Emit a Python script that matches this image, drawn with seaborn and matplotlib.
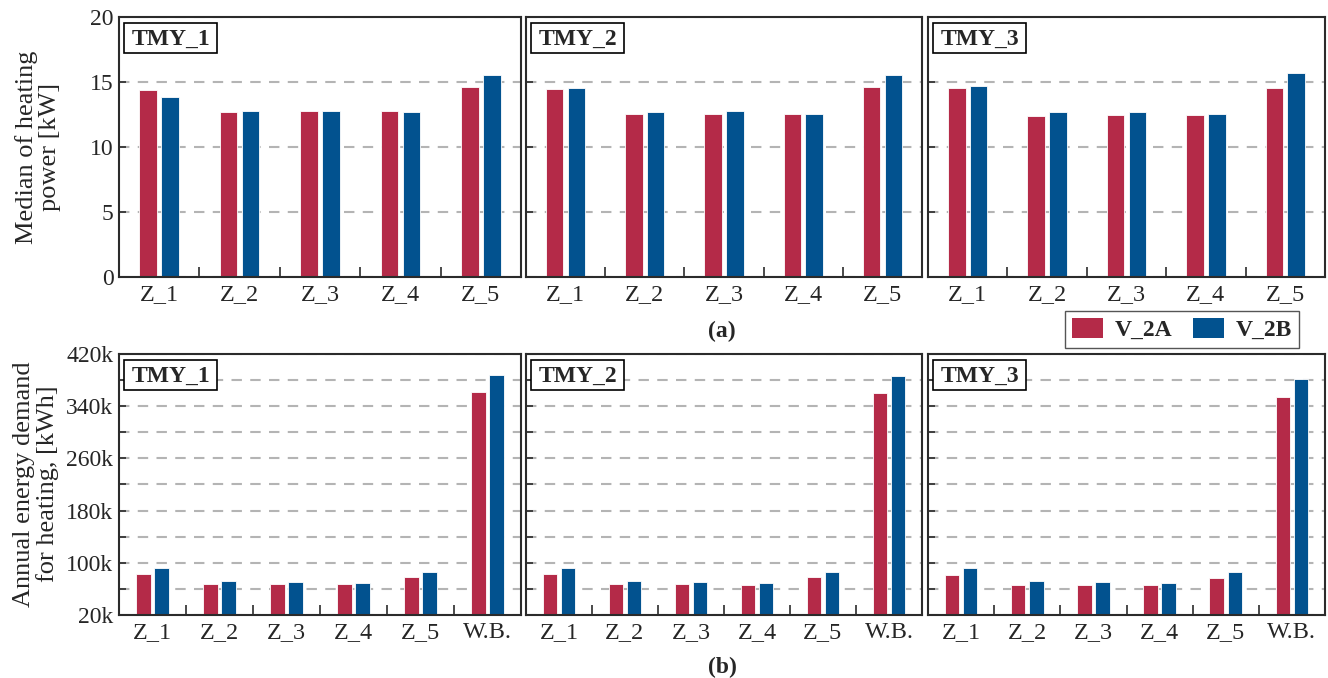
import numpy as np
import pandas as pd
import seaborn as sns
import matplotlib.pyplot as plt
from matplotlib.patches import Patch, Rectangle
from matplotlib.ticker import FixedLocator

# ---------------- data ----------------
weathers = ["TMY_1", "TMY_2", "TMY_3"]
variants = ["V_2A", "V_2B"]
zones_top = ["Z_1", "Z_2", "Z_3", "Z_4", "Z_5"]
zones_bot = ["Z_1", "Z_2", "Z_3", "Z_4", "Z_5", "W.B."]

# Median of heating power [kW]
power_v2a_tmy1 = [14.40, 12.72, 12.77, 12.77, 14.60]
power_v2b_tmy1 = [13.85, 12.80, 12.80, 12.72, 15.57]
power_v2a_tmy2 = [14.45, 12.52, 12.57, 12.57, 14.60]
power_v2b_tmy2 = [14.55, 12.70, 12.75, 12.57, 15.57]
power_v2a_tmy3 = [14.53, 12.41, 12.44, 12.44, 14.50]
power_v2b_tmy3 = [14.70, 12.72, 12.72, 12.52, 15.68]

# Annual energy demand for heating [kWh]
energy_v2a_tmy1 = [82800, 67400, 67400, 67400, 78600, 362000]
energy_v2b_tmy1 = [91400, 72000, 70500, 69000, 85800, 388000]
energy_v2a_tmy2 = [82500, 67400, 67400, 66500, 78000, 359800]
energy_v2b_tmy2 = [91400, 72000, 70500, 69000, 85800, 386800]
energy_v2a_tmy3 = [80700, 65900, 65400, 65400, 76600, 353700]
energy_v2b_tmy3 = [91400, 72000, 70500, 69000, 85800, 381200]

power_ticks = [0, 5, 10, 15, 20]
power_tick_labels = ["0", "5", "10", "15", "20"]
energy_ticks = [20000, 60000, 100000, 140000, 180000, 220000, 260000,
                300000, 340000, 380000, 420000]
energy_tick_labels = ["20k", "", "100k", "", "180k", "", "260k", "",
                      "340k", "", "420k"]

power = {"TMY_1": (power_v2a_tmy1, power_v2b_tmy1),
         "TMY_2": (power_v2a_tmy2, power_v2b_tmy2),
         "TMY_3": (power_v2a_tmy3, power_v2b_tmy3)}
energy = {"TMY_1": (energy_v2a_tmy1, energy_v2b_tmy1),
          "TMY_2": (energy_v2a_tmy2, energy_v2b_tmy2),
          "TMY_3": (energy_v2a_tmy3, energy_v2b_tmy3)}

# ---------------- style ----------------
RED = "#B42A48"
BLUE = "#02528F"
SPINE = "#2b2b2b"
GRID = "#B4B4B4"

sns.set_theme(style="white")
plt.rcParams["font.family"] = ["Liberation Serif", "DejaVu Serif"]
plt.rcParams["font.size"] = 17

fig = plt.figure(figsize=(13.28, 6.78), dpi=100)
W, H = 1328.0, 678.0

cols_px = [(119, 521), (526, 922), (928, 1325)]
rows_px = [(17, 277), (354, 615)]


def make_ax(col, row):
    x0, x1 = cols_px[col]
    y0, y1 = rows_px[row]
    ax = fig.add_axes([x0 / W, 1 - y1 / H, (x1 - x0) / W, (y1 - y0) / H])
    return ax, (x1 - x0), (y1 - y0)


def style_ax(ax, n_cat, ticks, labels, ylim, first):
    ax.set_xlim(-0.5, n_cat - 0.5)
    ax.set_ylim(*ylim)
    ax.set_yticks(ticks)
    if first:
        ax.set_yticklabels(labels)
    else:
        ax.set_yticklabels([])
    ax.tick_params(axis="y", direction="in", length=5, width=1.2,
                   color=SPINE, labelsize=17, pad=4, left=True)
    ax.tick_params(axis="x", which="major", length=0, labelsize=17.5, pad=5)
    ax.xaxis.set_minor_locator(FixedLocator(np.arange(0.5, n_cat - 0.5, 1.0)))
    ax.tick_params(axis="x", which="minor", direction="in", length=7,
                   width=1.2, color=SPINE, bottom=True)
    ax.set_xlabel("")
    ax.set_ylabel("")
    for s in ax.spines.values():
        s.set_visible(True)
        s.set_color(SPINE)
        s.set_linewidth(1.5)
    ax.set_axisbelow(True)
    ax.yaxis.grid(True, linestyle=(0, (5, 4)), color=GRID, linewidth=1.5)
    ax.xaxis.grid(False)


def draw(ax, cats, vals_a, vals_b):
    df = pd.DataFrame({
        "zone": list(cats) * 2,
        "variant": [variants[0]] * len(cats) + [variants[1]] * len(cats),
        "value": list(vals_a) + list(vals_b),
    })
    sns.barplot(data=df, x="zone", y="value", hue="variant",
                order=cats, hue_order=variants, palette=[RED, BLUE],
                width=0.55, gap=0.2, errorbar=None, legend=False, ax=ax,
                edgecolor="white", linewidth=0.6, saturation=1)


def panel_label(ax, text, wpx, hpx):
    # framed label box in the upper-left corner
    ax.add_patch(Rectangle((5 / wpx, 1 - 36 / hpx), 93 / wpx, 30 / hpx,
                           transform=ax.transAxes, facecolor="white",
                           edgecolor="black", linewidth=1.2, zorder=9,
                           clip_on=False))
    ax.text(13 / wpx, 1 - 28 / hpx, text, transform=ax.transAxes,
            ha="left", va="baseline", fontsize=17, fontweight="bold",
            zorder=10)


for i, w in enumerate(weathers):
    ax, wpx, hpx = make_ax(i, 0)
    draw(ax, zones_top, *power[w])
    style_ax(ax, len(zones_top), power_ticks, power_tick_labels, (0, 20), i == 0)
    panel_label(ax, w, wpx, hpx)

    ax, wpx, hpx = make_ax(i, 1)
    draw(ax, zones_bot, *energy[w])
    style_ax(ax, len(zones_bot), energy_ticks, energy_tick_labels,
             (20000, 420000), i == 0)
    panel_label(ax, w, wpx, hpx)

# axis titles
fig.text(38 / W, 1 - 147 / H, "Median of heating\npower [kW]", rotation=90,
         ha="center", va="center", multialignment="center", fontsize=19,
         linespacing=1.1)
fig.text(36 / W, 1 - 484 / H, "Annual energy demand\nfor heating, [kWh]",
         rotation=90, ha="center", va="center", multialignment="center",
         fontsize=19, linespacing=1.1)

# sub-captions
fig.text(722 / W, 1 - 331 / H, "(a)", ha="center", va="center",
         fontsize=17, fontweight="bold")
fig.text(722 / W, 1 - 667 / H, "(b)", ha="center", va="center",
         fontsize=17, fontweight="bold")

# legend
handles = [Patch(facecolor=RED, edgecolor="none"),
           Patch(facecolor=BLUE, edgecolor="none")]
leg = fig.legend(handles, variants, loc="center",
                 bbox_to_anchor=(1182 / W, 1 - 329.5 / H), ncol=2,
                 frameon=True, fancybox=False, framealpha=1,
                 edgecolor="#555555", prop={"weight": "bold", "size": 17},
                 handlelength=1.3, handleheight=0.9, handletextpad=0.5,
                 columnspacing=0.9, borderpad=0.3)
leg.get_frame().set_linewidth(1.0)

fig.savefig("out.png", dpi=100)
